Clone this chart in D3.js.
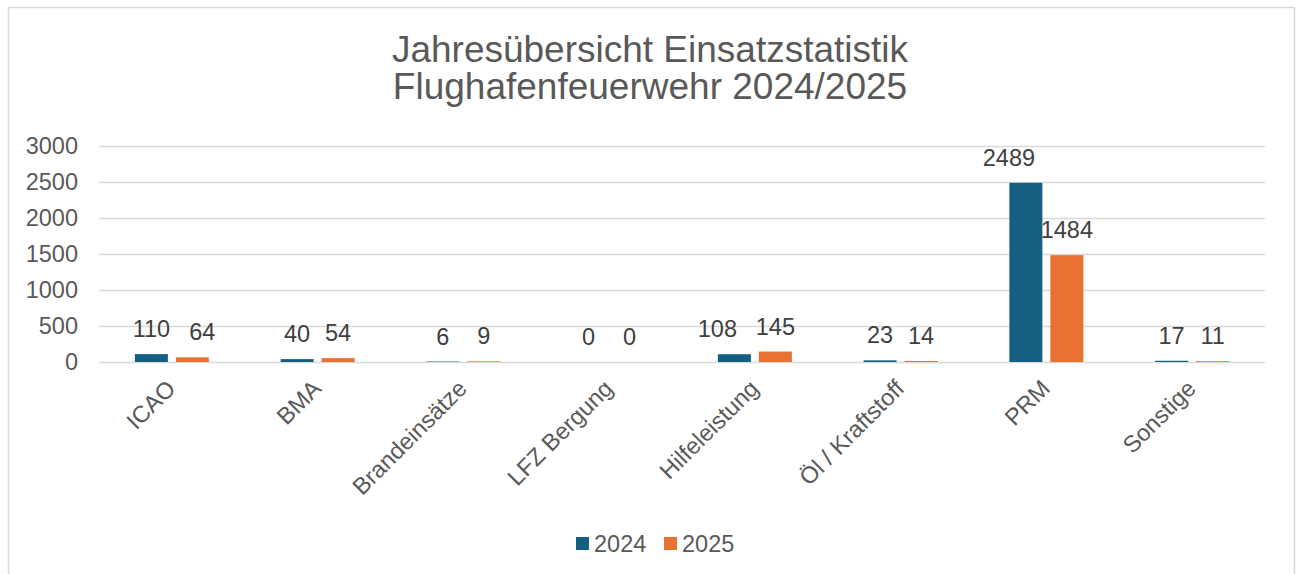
<!DOCTYPE html>
<html>
<head>
<meta charset="utf-8">
<script src="https://cdn.jsdelivr.net/npm/d3@7"></script>
<style>
  html, body { margin: 0; padding: 0; background: #fff; }
  svg { display: block; font-family: "Liberation Sans", Arial, sans-serif; }
</style>
</head>
<body>
<div id="root"></div>
<script>
// data
const categories = ['ICAO', 'BMA', 'Brandeinsätze', 'LFZ Bergung', 'Hilfeleistung', 'Öl / Kraftstoff', 'PRM', 'Sonstige'];
const series = ['2024', '2025'];
const values2024 = [110, 40, 6, 0, 108, 23, 2489, 17];
const values2025 = [64, 54, 9, 0, 145, 14, 1484, 11];
const yTicks = [0, 500, 1000, 1500, 2000, 2500, 3000];
const titleLines = ['Jahresübersicht Einsatzstatistik', 'Flughafenfeuerwehr 2024/2025'];
const colors = { '2024': '#156082', '2025': '#E97132' };

const w = 1301;
const h = 574;
const plotLeft = 99, plotRight = 1265, plotTop = 146, plotBottom = 362;
const fs = 23.5; // label font size

const svg = d3.select('#root')
  .append('svg')
  .attr('width', w)
  .attr('height', h);

// chart frame
svg.append('rect')
  .attr('x', 8.5).attr('y', 7.5)
  .attr('width', 1286).attr('height', 600)
  .attr('fill', '#fff')
  .attr('stroke', '#d9d9d9')
  .attr('stroke-width', 1.5);

// title
svg.append('text')
  .attr('text-anchor', 'middle')
  .attr('font-size', 37)
  .attr('fill', '#595959')
  .selectAll('tspan')
  .data(titleLines)
  .enter()
  .append('tspan')
  .attr('x', 650)
  .attr('y', (d, i) => 61.5 + i * 37.5)
  .text(d => d);

// scales
const yScale = d3.scaleLinear().domain([0, 3000]).range([plotBottom, plotTop]);
const x0 = d3.scaleBand().domain(categories).range([plotLeft, plotRight]);
const groupW = 74;
const x1 = d3.scaleBand().domain(series).range([0, groupW]).paddingInner(0.195);
const groupOffset = (x0.bandwidth() - groupW) / 2;

// gridlines + y labels
const yAxis = d3.axisLeft(yScale)
  .tickValues(yTicks)
  .tickFormat(d3.format('d'))
  .tickSize(0)
  .tickPadding(21);
const gy = svg.append('g')
  .attr('transform', `translate(${plotLeft},0)`)
  .call(yAxis)
  .attr('font-family', null)
  .attr('font-size', null);
gy.select('.domain').remove();
gy.selectAll('.tick text')
  .attr('font-size', fs)
  .attr('fill', '#595959');
gy.selectAll('.tick line')
  .attr('x2', plotRight - plotLeft)
  .attr('stroke', '#d9d9d9')
  .attr('stroke-width', 1.5);

// bars
const rows = categories.map((c, i) => ({ cat: c, vals: [
  { s: '2024', v: values2024[i] },
  { s: '2025', v: values2025[i] }
] }));

const groups = svg.selectAll('.grp')
  .data(rows)
  .enter()
  .append('g')
  .attr('class', 'grp')
  .attr('transform', d => `translate(${x0(d.cat) + groupOffset},0)`);

groups.selectAll('rect')
  .data(d => d.vals)
  .enter()
  .append('rect')
  .attr('x', d => x1(d.s))
  .attr('y', d => yScale(d.v))
  .attr('width', x1.bandwidth())
  .attr('height', d => plotBottom - yScale(d.v))
  .attr('fill', d => colors[d.s]);

groups.selectAll('text')
  .data(d => d.vals)
  .enter()
  .append('text')
  .attr('x', d => x1(d.s) + x1.bandwidth() / 2)
  .attr('y', d => yScale(d.v) - 17)
  .attr('text-anchor', 'middle')
  .attr('font-size', fs)
  .attr('fill', '#404040')
  .text(d => d.v);

// push labels apart when a pair sits too close (like Excel does)
groups.each(function() {
  const labels = d3.select(this).selectAll('text').nodes();
  const a = labels[0], b = labels[1];
  const ax = +a.getAttribute('x'), bx = +b.getAttribute('x');
  const aw = a.getComputedTextLength(), bw = b.getComputedTextLength();
  const gap = (bx - bw / 2) - (ax + aw / 2);
  if (gap < 4) {
    a.setAttribute('x', ax - 17);
  } else if (gap < 12) {
    b.setAttribute('x', bx + 10);
  }
});

// x labels rotated
svg.selectAll('.xlab')
  .data(categories)
  .enter()
  .append('text')
  .attr('class', 'xlab')
  .attr('transform', d => `translate(${x0(d) + x0.bandwidth() / 2 + 5},${plotBottom + 28}) rotate(-45)`)
  .attr('text-anchor', 'end')
  .attr('font-size', fs)
  .attr('fill', '#595959')
  .text(d => d);

// legend
const legend = svg.append('g');
const legX = [576, 664];
series.forEach((s, i) => {
  legend.append('rect')
    .attr('x', legX[i]).attr('y', 537)
    .attr('width', 13).attr('height', 13)
    .attr('fill', colors[s]);
  legend.append('text')
    .attr('x', legX[i] + 18).attr('y', 552)
    .attr('font-size', fs)
    .attr('fill', '#595959')
    .text(s);
});
</script>
</body>
</html>
